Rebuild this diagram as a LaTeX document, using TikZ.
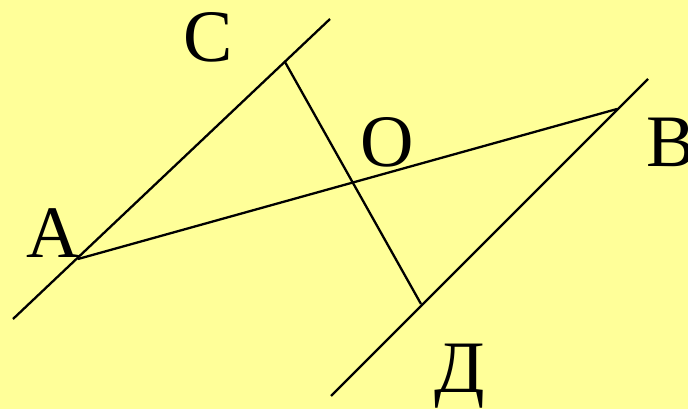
\documentclass[tikz,border=0pt]{standalone}
\usepackage{fontspec}
\setmainfont{Liberation Serif}
\definecolor{bg}{HTML}{FFFF99}
\begin{document}
\begin{tikzpicture}[x=1pt,y=-1pt,
  ln/.style={line width=2.3pt,black},
  lbl/.style={inner sep=0pt,font=\fontsize{74}{80}\selectfont,anchor=base}]
\fill[bg] (0,0) rectangle (688,409);
\useasboundingbox (0,0) rectangle (688,409);
\coordinate (P1) at (13,319);
\coordinate (P2) at (330,19);
\coordinate (Q1) at (331,396);
\coordinate (Q2) at (648,79);
\coordinate (A) at (78,259);
\coordinate (B) at (617,109);
\coordinate (C) at (285,62);
\coordinate (D) at (421,304);
\draw[ln] (P1) -- (P2);
\draw[ln] (Q1) -- (Q2);
\draw[ln] (A) -- (B);
\draw[ln] (C) -- (D);
\node[lbl] (tA) at (53,257) {A};
\node[lbl] (tC) at (208,62) {C};
\node[lbl] (tO) at (387,167) {O};
\node[lbl,anchor=base west] (tB) at (646,167) {B};
\node[lbl] (tD) at (460,392) {Д};
\end{tikzpicture}
\end{document}
